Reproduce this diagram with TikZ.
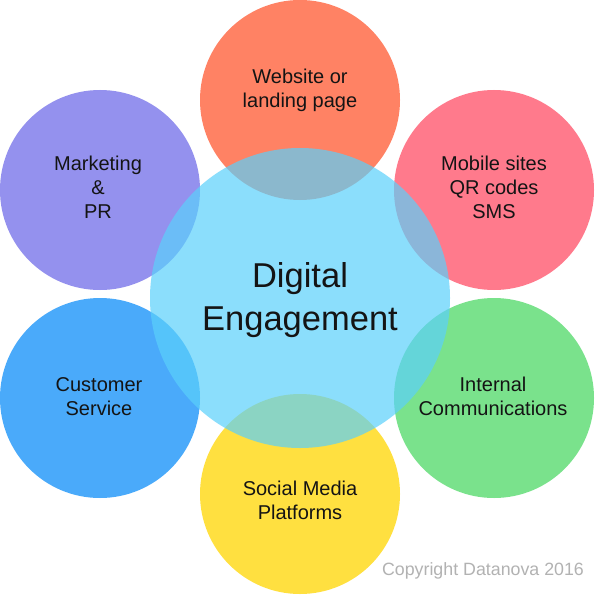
\documentclass[tikz,border=0pt]{standalone}
\usepackage{fontspec}
\setmainfont{Liberation Sans}
\definecolor{corange}{RGB}{255,130,100}
\definecolor{cpink}{RGB}{255,122,140}
\definecolor{cpurple}{RGB}{148,145,238}
\definecolor{cblue}{RGB}{74,170,250}
\definecolor{cgreen}{RGB}{122,226,140}
\definecolor{cyellow}{RGB}{255,224,64}
\definecolor{ccenter}{RGB}{91,208,251}
\definecolor{ctext}{RGB}{20,20,20}
\definecolor{ccopy}{RGB}{178,178,178}
\begin{document}
\begin{tikzpicture}[x=1pt,y=-1pt,
  petal/.style={circle,draw=none,minimum size=200pt,inner sep=0pt},
  hub/.style={circle,draw=none,minimum size=300pt,inner sep=0pt,fill=ccenter,fill opacity=0.7},
  lbl/.style={align=center,text=ctext,font=\fontsize{20}{24}\selectfont,inner sep=0pt},
  biglbl/.style={align=center,text=ctext,font=\fontsize{34.5}{43}\selectfont,inner sep=0pt}]
\useasboundingbox (0,0) rectangle (594,596);
\fill[white] (0,0) rectangle (594,596);
\node[petal,fill=corange] (web) at (300,100) {};
\node[petal,fill=cpink] (mob) at (494,190) {};
\node[petal,fill=cgreen] (int) at (494,398) {};
\node[petal,fill=cyellow] (soc) at (300,494) {};
\node[petal,fill=cblue] (cus) at (100,398) {};
\node[petal,fill=cpurple] (mkt) at (100,190) {};
\node[hub] (dig) at (300,298) {};
\node[lbl] (tweb) at (300,90) {Website or\\landing page};
\node[lbl] (tmkt) at (98,187) {Marketing\\\&\\PR};
\node[lbl] (tmob) at (494,187) {Mobile sites\\QR codes\\SMS};
\node[lbl] (tcus) at (99,396.5) {Customer\\Service};
\node[lbl] (tint) at (493,396.5) {Internal\\Communications};
\node[lbl] (tsoc) at (300,500) {Social Media\\Platforms};
\node[biglbl] (tdig) at (300,300) {Digital\\Engagement};
\node[text=ccopy,font=\fontsize{17.8}{20}\selectfont,inner sep=0pt] (copy) at (483,571) {Copyright Datanova 2016};
\end{tikzpicture}
\end{document}
